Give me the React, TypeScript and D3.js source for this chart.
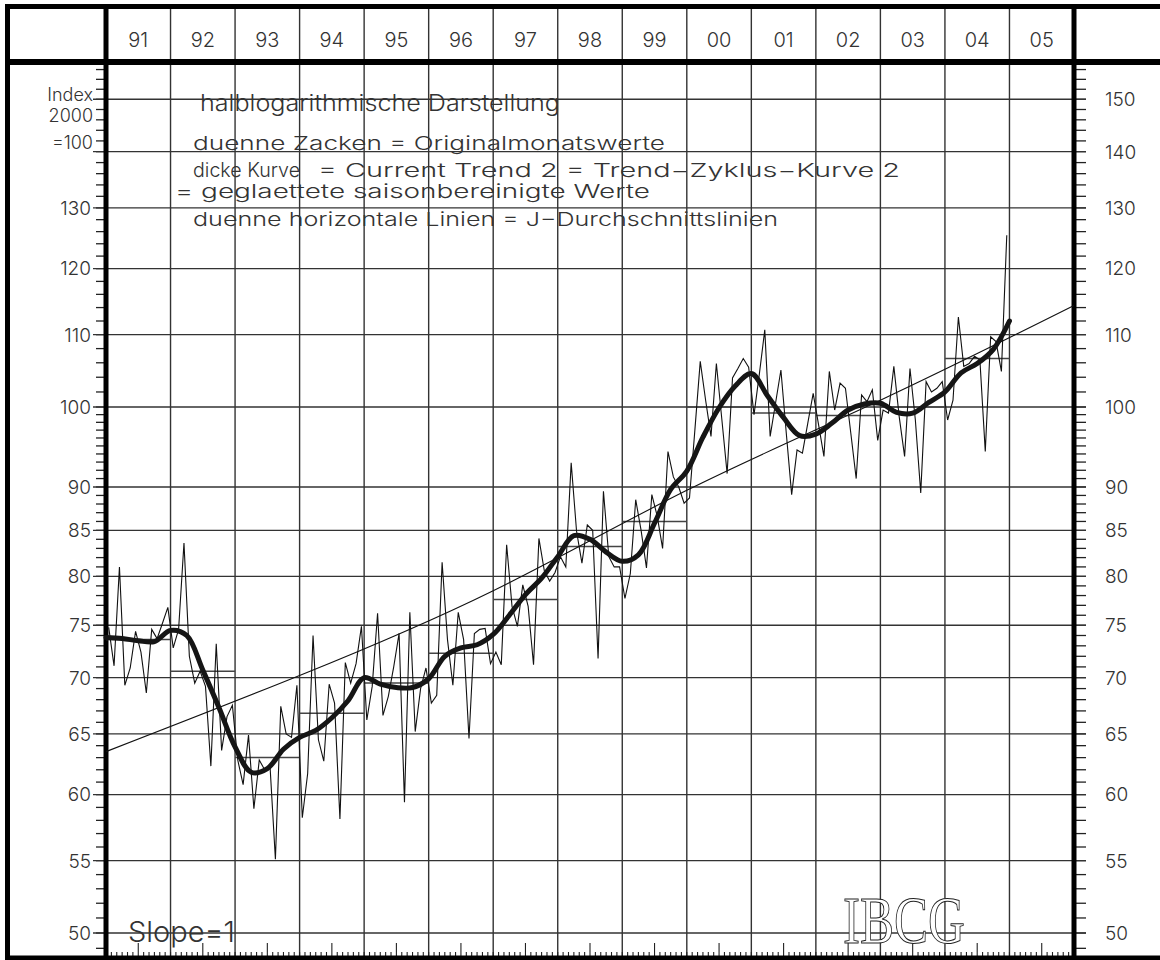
import * as d3 from "d3";
import React, { useEffect, useRef } from "react";

const width = 1160;
const height = 960;

const yearLabels = ["91", "92", "93", "94", "95", "96", "97", "98", "99", "00", "01", "02", "03", "04", "05"];
const majorValues = [50, 55, 60, 65, 70, 75, 80, 85, 90, 100, 110, 120, 130, 140, 150];
const leftLabelValues = [50, 55, 60, 65, 70, 75, 80, 85, 90, 100, 110, 120, 130];
const unitNote = ["Index", "2000", "=100"];

// monthly original values, Jan..Dec
const m91 = [74.8, 71.1, 81.0, 69.3, 70.9, 74.4, 72.4, 68.6, 74.6, 73.7, 75.2, 76.8];
const m92 = [72.8, 74.6, 83.6, 72.0, 69.5, 70.6, 69.2, 62.3, 73.2, 63.6, 66.5, 67.5];
const m93 = [62.8, 60.8, 64.9, 58.9, 62.8, 62.0, 62.3, 55.1, 67.4, 65.0, 64.7, 69.3];
const m94 = [58.2, 61.7, 74.0, 64.5, 62.7, 69.4, 67.7, 58.1, 71.4, 69.5, 71.3, 74.9];
const m95 = [66.2, 69.2, 76.2, 66.6, 68.3, 71.0, 74.2, 59.4, 76.3, 65.2, 69.0, 70.9];
const m96 = [67.7, 68.4, 81.5, 73.6, 69.3, 76.3, 73.6, 64.6, 74.2, 74.6, 74.7, 71.3];
const m97 = [72.4, 71.2, 83.4, 76.9, 74.9, 79.1, 76.9, 71.2, 84.1, 80.6, 79.5, 80.4];
const m98 = [82.1, 81.0, 92.9, 84.9, 81.4, 85.6, 85.0, 71.8, 89.5, 82.1, 81.0, 81.0];
const m99 = [77.7, 80.3, 88.5, 85.0, 80.9, 89.1, 86.6, 83.0, 94.3, 91.2, 90.0, 88.1];
const m00 = [88.7, 97.0, 106.2, 100.9, 96.2, 105.9, 98.5, 91.6, 103.9, 105.2, 106.6, 105.4];
const m01 = [99.0, 104.5, 110.7, 96.2, 100.5, 105.0, 96.6, 89.1, 94.5, 94.1, 97.9, 101.8];
const m02 = [97.7, 93.7, 104.8, 99.6, 103.2, 102.5, 96.6, 91.0, 101.6, 100.7, 102.3, 95.7];
const m03 = [99.6, 99.2, 105.5, 98.7, 93.7, 105.2, 98.3, 89.3, 103.4, 102.0, 102.5, 103.4];
const m04 = [98.3, 100.9, 112.6, 105.5, 105.9, 106.9, 106.4, 94.3, 109.7, 109.0, 104.8, 125.4];
const monthlyByYear = [m91, m92, m93, m94, m95, m96, m97, m98, m99, m00, m01, m02, m03, m04];

// annual averages (J-Durchschnitt)
const yearAverages = [73.6, 70.6, 63.0, 66.8, 69.5, 72.3, 77.6, 83.2, 86.0, 100.0, 99.2, 98.9, 100.0, 106.6];

// trend-cycle curve, quarterly from Jan 1991
const trendQuarterly = [
  73.8, 73.7, 73.5, 73.4, 74.5, 74.0, 70.7, 67.3, 63.9, 61.8, 62.1, 63.7,
  64.7, 65.3, 66.4, 67.9, 70.0, 69.4, 69.1, 69.1, 69.9, 72.0, 72.8, 73.1,
  74.1, 76.0, 78.1, 79.8, 82.1, 84.4, 84.0, 82.6, 81.6, 82.3, 85.8, 89.7,
  91.9, 96.1, 99.9, 102.8, 104.5, 101.5, 98.6, 96.3, 96.5, 97.9, 99.6, 100.4,
  100.5, 99.3, 99.2, 100.6, 102.0, 104.6, 105.9, 107.9, 112.0,
];

// long-term line (Slope=1)
const fitYears = [0, 3, 6, 9, 12, 15];
const fitValues = [63.5, 70.2, 78.5, 89.6, 100.9, 114.3];

const legendTitle = "halblogarithmische Darstellung";
const legendLines = [
  "duenne Zacken = Originalmonatswerte",
  "dicke Kurve",
  "= Current Trend 2 = Trend\u2212Zyklus\u2212Kurve 2",
  "= geglaettete saisonbereinigte Werte",
  "duenne horizontale Linien = J\u2212Durchschnittslinien",
];

const App: React.FC = () => {
  const ref = useRef<SVGSVGElement>(null);

  useEffect(() => {
    if (!ref.current) return;
    const svg = d3.select(ref.current);
    svg.selectAll("*").remove();

    const x = d3.scaleLinear().domain([0, 15]).range([106, 1074]);
    const y = d3.scaleLog().domain([50, 100]).range([933, 407]);
    const top = 62;
    const bottom = 958;
    const font = "Inter, 'DejaVu Sans', sans-serif";
    const ink = "#333";

    svg.append("rect").attr("width", width).attr("height", height).attr("fill", "#fff");

    // minor value ticks
    const minor = d3.range(49, 100).concat(d3.range(100, 157, 2));
    svg.append("g").selectAll("line").data(minor).join("line")
      .attr("x1", 96).attr("x2", 106)
      .attr("y1", (d) => y(d)).attr("y2", (d) => y(d))
      .attr("stroke", "#222").attr("stroke-width", 1.3);
    svg.append("g").selectAll("line").data(minor).join("line")
      .attr("x1", 1074).attr("x2", 1086)
      .attr("y1", (d) => y(d)).attr("y2", (d) => y(d))
      .attr("stroke", "#222").attr("stroke-width", 1.3);

    // horizontal grid
    svg.append("g").selectAll("line").data(majorValues).join("line")
      .attr("x1", 93).attr("x2", 1086)
      .attr("y1", (d) => y(d)).attr("y2", (d) => y(d))
      .attr("stroke", "#333").attr("stroke-width", 1.4);

    // year lines
    svg.append("g").selectAll("line").data(d3.range(1, 15)).join("line")
      .attr("x1", (d) => x(d)).attr("x2", (d) => x(d))
      .attr("y1", 4).attr("y2", bottom)
      .attr("stroke", "#333").attr("stroke-width", 1.4);

    // monthly ticks at the bottom
    svg.append("g").selectAll("line").data(d3.range(1, 180)).join("line")
      .attr("x1", (d) => x(d / 12)).attr("x2", (d) => x(d / 12))
      .attr("y1", (d) => (d % 12 === 6 ? bottom - 15 : bottom - 6)).attr("y2", bottom)
      .attr("stroke", "#222").attr("stroke-width", 1.1);

    // frame
    const frame = svg.append("g").attr("stroke", "#000");
    frame.append("line").attr("x1", 5).attr("x2", width).attr("y1", 6.5).attr("y2", 6.5).attr("stroke-width", 5);
    frame.append("line").attr("x1", 5).attr("x2", width).attr("y1", top).attr("y2", top).attr("stroke-width", 6);
    frame.append("line").attr("x1", 5).attr("x2", width).attr("y1", 958).attr("y2", 958).attr("stroke-width", 5);
    frame.append("line").attr("x1", 7.5).attr("x2", 7.5).attr("y1", 4).attr("y2", 960).attr("stroke-width", 5);
    frame.append("line").attr("x1", x(0)).attr("x2", x(0)).attr("y1", 4).attr("y2", 960).attr("stroke-width", 5);
    frame.append("line").attr("x1", x(15)).attr("x2", x(15)).attr("y1", 4).attr("y2", 960).attr("stroke-width", 5);

    // year labels
    svg.append("g").selectAll("text").data(yearLabels).join("text")
      .attr("x", (_, i) => x(i + 0.5)).attr("y", 47)
      .attr("text-anchor", "middle")
      .style("font-family", font).style("font-weight", 300).style("font-size", "20px")
      .attr("fill", ink).text((d) => d);

    // value labels
    svg.append("g").selectAll("text").data(leftLabelValues).join("text")
      .attr("x", 91).attr("y", (d) => y(d)).attr("dy", "0.36em")
      .attr("text-anchor", "end")
      .style("font-family", font).style("font-weight", 300).style("font-size", "19px")
      .attr("fill", ink).text((d) => d);
    svg.append("g").selectAll("text").data(majorValues).join("text")
      .attr("x", 1105).attr("y", (d) => y(d)).attr("dy", "0.36em")
      .style("font-family", font).style("font-weight", 300).style("font-size", "19px")
      .attr("fill", ink).text((d) => d);

    const noteY = [101, 122, 149];
    svg.append("g").selectAll("text").data(unitNote).join("text")
      .attr("x", 93).attr("y", (_, i) => noteY[i])
      .attr("text-anchor", "end")
      .style("font-family", font).style("font-weight", 300).style("font-size", "18px")
      .attr("fill", ink).text((d) => d);

    // annual average lines
    svg.append("g").selectAll("line").data(yearAverages).join("line")
      .attr("x1", (_, i) => x(i)).attr("x2", (_, i) => x(i + 1))
      .attr("y1", (d) => y(d)).attr("y2", (d) => y(d))
      .attr("stroke", "#444").attr("stroke-width", 1.5);

    // long-term line
    const fitLine = d3.line<number>()
      .x((_, i) => x(fitYears[i])).y((d) => y(d))
      .curve(d3.curveNatural);
    svg.append("path").attr("d", fitLine(fitValues))
      .attr("fill", "none").attr("stroke", "#111").attr("stroke-width", 1.1);

    // monthly zigzag
    const monthly: Array<[number, number]> = [];
    monthlyByYear.forEach((vals, k) => vals.forEach((v, m) => monthly.push([k + (m + 0.5) / 12, v])));
    const zig = d3.line<[number, number]>().x((d) => x(d[0])).y((d) => y(d[1]));
    svg.append("path").attr("d", zig(monthly))
      .attr("fill", "none").attr("stroke", "#111").attr("stroke-width", 1.1)
      .attr("stroke-linejoin", "miter");

    // trend-cycle curve
    const curve = d3.line<number>()
      .x((_, i) => x(i * 0.25)).y((d) => y(d))
      .curve(d3.curveCatmullRom);
    svg.append("path").attr("d", curve(trendQuarterly))
      .attr("fill", "none").attr("stroke", "#151515").attr("stroke-width", 5)
      .attr("stroke-linecap", "round");

    // legend
    const addText = (t: string, tx: number, ty: number, size: number, len: number) =>
      svg.append("text").attr("x", tx).attr("y", ty)
        .attr("textLength", len).attr("lengthAdjust", "spacingAndGlyphs")
        .style("font-family", font).style("font-weight", 300).style("font-size", `${size}px`)
        .attr("fill", ink).text(t);

    addText(legendTitle, 200, 111, 23, 360);
    addText(legendLines[0], 193, 150, 19, 472);
    addText(legendLines[1], 193, 177, 20, 107);
    addText(legendLines[2], 318, 177, 19, 582);
    addText(legendLines[3], 175, 198, 19, 475);
    addText(legendLines[4], 193, 226, 19, 585);

    addText("Slope=1", 128, 942, 28, 107);

    svg.append("text").attr("x", 843).attr("y", 943)
      .attr("textLength", 122).attr("lengthAdjust", "spacingAndGlyphs")
      .style("font-family", "'Liberation Serif', 'DejaVu Serif', serif").style("font-size", "68px")
      .attr("fill", "#fff").attr("stroke", "#222").attr("stroke-width", 1)
      .text("IBCG");
  }, []);

  return (
    <svg ref={ref} width={width} height={height}
      style={{ position: "absolute", left: 0, top: 0, display: "block" }} />
  );
};

export default App;
